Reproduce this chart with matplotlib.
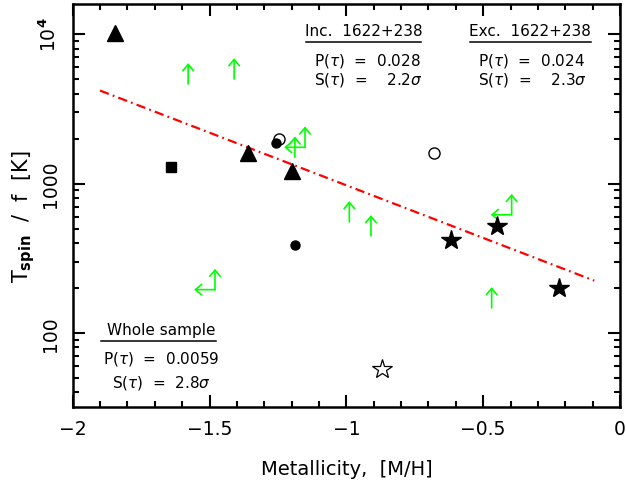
import matplotlib
matplotlib.use("Agg")
import matplotlib.pyplot as plt
import matplotlib.transforms as mtransforms
from matplotlib.ticker import FixedLocator, LogLocator, MultipleLocator, FixedFormatter, NullFormatter
import numpy as np

plt.rcParams['font.family'] = ['DejaVu Sans']
plt.rcParams['mathtext.fontset'] = 'dejavusans'

# ---- data ----
tri_x = [-1.845, -1.358, -1.198]
tri_y = [10150, 1600, 1208]
sq_x = [-1.640]
sq_y = [1283]
circ_x = [-1.257, -1.188]
circ_y = [1866, 388]
ocirc_x = [-1.246, -0.679]
ocirc_y = [1986, 1592]
star_x = [-0.619, -0.451, -0.222]
star_y = [421, 523, 199]
ostar_x = [-0.869]
ostar_y = [57.4]
# lower limits on T_spin/f (upward arrows)
ll_x = [-1.578, -1.410, -1.188, -0.989, -0.910, -0.469]
ll_y = [4635, 5000, 1497, 553, 446, 147]
# lower limit in y and upper limit in x (L-shaped arrows)
bl_x = [-1.480, -1.151, -0.396]
bl_y = [195, 1747, 618]
# fit: log10(T/f) = intercept + slope * [M/H]
fit_slope = -0.704
fit_intercept = 2.284
fit_xrange = [-1.90, -0.094]

xticks = [-2, -1.5, -1, -0.5, 0]
xticklabels = ['\u22122', '\u22121.5', '\u22121', '\u22120.5', '0']
yticks = [100, 1000, 10000]
yticklabels = ['100', '1000', r'10$^{\mathbf{4}}$']

inc_lines = ['Inc.  1622+238', r'P($\tau$)  =  0.028', r'S($\tau$)  =    2.2$\sigma$']
exc_lines = ['Exc.  1622+238', r'P($\tau$)  =  0.024', r'S($\tau$)  =    2.3$\sigma$']
whole_lines = ['Whole sample', r'P($\tau$)  =  0.0059', r'S($\tau$)  =  2.8$\sigma$']

# ---- figure ----
fig = plt.figure(figsize=(6.26, 4.85), dpi=100)
ax = fig.add_axes([0.1161, 0.1588, 0.8743, 0.8309])
ax.set_yscale('log')
ax.set_xlim(-2, 0)
ax.set_ylim(32.0, 15880)

green = '#00ff00'

# fit line
fx = np.linspace(fit_xrange[0], fit_xrange[1], 50)
fy = 10 ** (fit_intercept + fit_slope * fx)
ax.plot(fx, fy, color='#ff0000', lw=1.6, linestyle=(0, (4.2, 1.9, 0.8, 1.9)), zorder=2)

# markers
ax.plot(tri_x, tri_y, '^', color='black', ms=11, mec='black', zorder=4)
ax.plot(sq_x, sq_y, 's', color='black', ms=6.5, zorder=4)
ax.plot(ocirc_x, ocirc_y, 'o', mfc='none', mec='black', ms=8, mew=1.0, zorder=4)
ax.plot(circ_x, circ_y, 'o', color='black', ms=6.5, zorder=4)
ax.plot(star_x, star_y, '*', color='black', ms=15, zorder=4)
ax.plot(ostar_x, ostar_y, '*', mfc='none', mec='black', ms=15, mew=0.9, zorder=4)

arrow_len = 15  # points
astyle = '->,head_length=0.45,head_width=0.38'

def arrow(x, y, dx, dy):
    tr = mtransforms.offset_copy(ax.transData, fig=fig, x=dx, y=dy, units='points')
    ax.annotate('', xy=(x, y), xycoords=tr, xytext=(x, y), textcoords='data',
                arrowprops=dict(arrowstyle=astyle, color=green, lw=1.2,
                                shrinkA=0, shrinkB=0), zorder=3)

for x, y in zip(ll_x, ll_y):
    arrow(x, y, 0, arrow_len)
for x, y in zip(bl_x, bl_y):
    arrow(x, y, 0, arrow_len)
    arrow(x, y, -arrow_len, 0)

# axes style
for s in ax.spines.values():
    s.set_linewidth(1.8)
ax.xaxis.set_major_locator(FixedLocator(xticks))
ax.xaxis.set_major_formatter(FixedFormatter(xticklabels))
ax.xaxis.set_minor_locator(MultipleLocator(0.1))
ax.yaxis.set_major_locator(FixedLocator(yticks))
ax.yaxis.set_major_formatter(FixedFormatter(yticklabels))
ax.yaxis.set_minor_locator(LogLocator(base=10, subs=np.arange(2, 10)))
ax.yaxis.set_minor_formatter(NullFormatter())
ax.tick_params(which='both', direction='in', top=True, right=True, width=1.5)
ax.tick_params(which='major', length=8.5, labelsize=13.5)
ax.tick_params(axis='x', which='major', pad=9)
ax.tick_params(axis='y', which='major', pad=9)
ax.tick_params(which='minor', length=4.5)
for lab in ax.get_yticklabels():
    lab.set_rotation(90)
    lab.set_va('center')

ax.set_xlabel('Metallicity,  [M/H]', fontsize=14)
ax.xaxis.set_label_coords(0.5, -0.128)
ax.set_ylabel(r'T$_{\mathbf{spin}}$  /  f  [K]', fontsize=15)
ax.yaxis.set_label_coords(-0.066, 0.475)

fs = 11

def block(lines, cx, ytitle, yline, x0, x1, ys, xs=None):
    ax.text(cx, ytitle, lines[0], transform=ax.transAxes, ha='center', va='center', fontsize=fs)
    ax.plot([x0, x1], [yline, yline], transform=ax.transAxes, color='black', lw=1.1, clip_on=False)
    for t, yy in zip(lines[1:], ys):
        if xs is None:
            ax.text(cx, yy, t, transform=ax.transAxes, ha='center', va='center', fontsize=fs)
        else:
            ax.text(xs, yy, t, transform=ax.transAxes, ha='left', va='center', fontsize=fs)

block(inc_lines, 0.5317, 0.933, 0.9065, 0.4263, 0.6364, [0.861, 0.8139], xs=0.4409)
block(exc_lines, 0.8347, 0.933, 0.9065, 0.7259, 0.947, [0.861, 0.8139], xs=0.741)
block(whole_lines, 0.1613, 0.1935, 0.1645, 0.0512, 0.2613, [0.1216, 0.062])

fig.savefig('out.png', dpi=100)
